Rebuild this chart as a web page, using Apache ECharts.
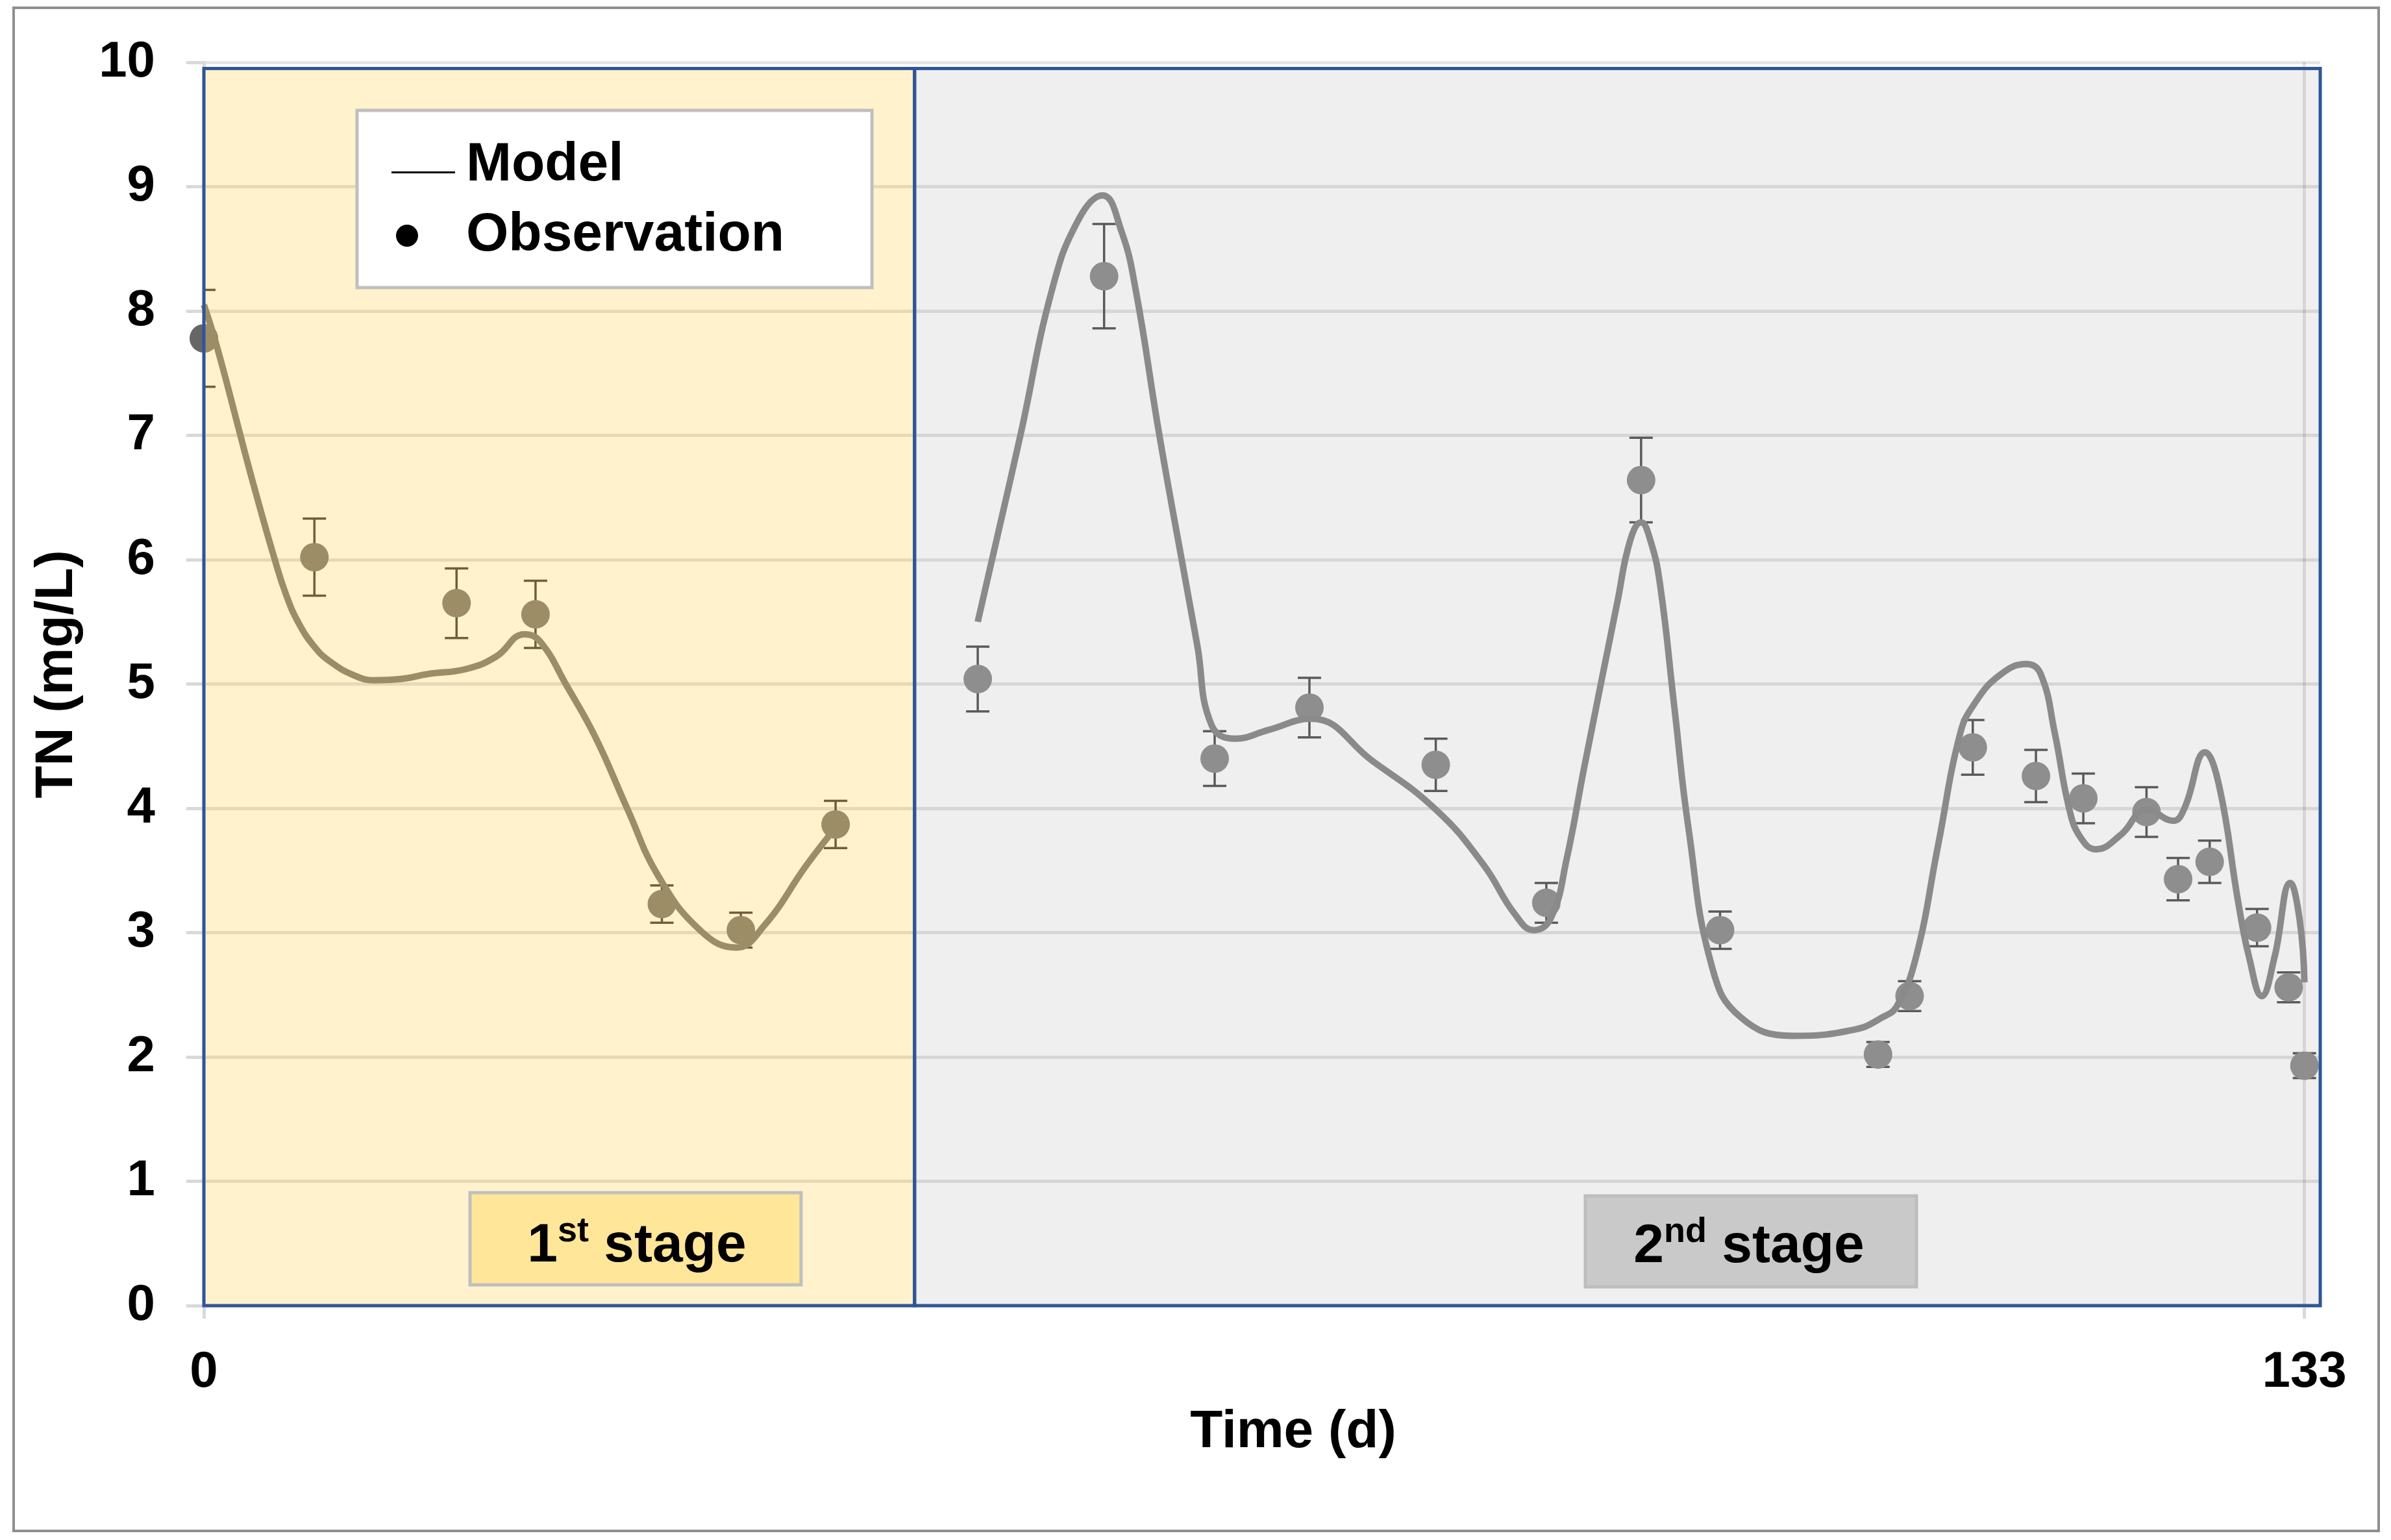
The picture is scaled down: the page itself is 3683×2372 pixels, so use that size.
<!DOCTYPE html>
<html>
<head>
<meta charset="utf-8">
<script src="https://cdn.jsdelivr.net/npm/echarts@6/dist/echarts.min.js"></script>
<style>
html,body{margin:0;padding:0;background:#fff;}
#chart{width:3683px;height:2372px;}
</style>
</head>
<body>
<div id="chart"></div>
<script>
// ---- Data ----
// Stage boundaries (days)
var stageBounds = [0, 45, 134];
var stageNames = ['1st stage', '2nd stage'];

// Observations, stage 1
var obs1Days = [0, 7, 16, 21, 29, 34, 40];
var obs1Vals = [7.78, 6.02, 5.65, 5.56, 3.23, 3.02, 3.87];
var obs1Err  = [0.39, 0.31, 0.28, 0.27, 0.15, 0.14, 0.19];

// Observations, stage 2
var obs2Days = [49, 57, 64, 70, 78, 85, 91, 96, 106, 108, 112, 116, 119, 123, 125, 127, 130, 132, 133];
var obs2Vals = [5.04, 8.28, 4.40, 4.81, 4.35, 3.24, 6.64, 3.02, 2.02, 2.49, 4.49, 4.26, 4.08, 3.97, 3.43, 3.57, 3.04, 2.56, 1.93];
var obs2Err  = [0.26, 0.42, 0.22, 0.24, 0.21, 0.16, 0.34, 0.15, 0.10, 0.12, 0.22, 0.21, 0.20, 0.20, 0.17, 0.17, 0.15, 0.12, 0.10];

// Model curve, stage 1
var model1Days = [0, 0.7, 1.6, 2.6, 3.5, 4.4, 5.2, 6, 7, 8, 9.5, 10.8, 12.5, 14.2, 16.6, 18.5, 20.3, 21.3, 23, 24.8, 26.8, 28.8, 31.5, 33.7, 35.5, 38.2, 40.1];
var model1Vals = [8.05, 7.77, 7.35, 6.86, 6.44, 6.04, 5.72, 5.49, 5.30, 5.18, 5.07, 5.03, 5.04, 5.08, 5.12, 5.22, 5.40, 5.34, 4.98, 4.57, 4.00, 3.45, 3.01, 2.88, 3.06, 3.55, 3.86];

// Model curve, stage 2
var model2Days = [49, 51.7, 53.7, 55.4, 56.9, 58.1, 59, 60.5, 62.2, 62.9, 63.8, 65.3, 67.4, 70.1, 74, 78, 81, 83, 84.2, 85.3, 86.3, 87.4, 89.5, 90.3, 91, 91.6, 92.2, 93.1, 94, 95.5, 97.3, 100.6, 104.5, 106.3, 107.2, 108.4, 109.8, 111.2, 112.1, 113.7, 115.4, 116.3, 117.2, 118.1, 118.8, 119.8, 121.4, 123, 124.7, 125.4, 126.7, 127.6, 128.8, 129.5, 130.3, 131.1, 132.1, 132.7, 133];
var model2Vals = [5.50, 7.00, 8.17, 8.74, 8.93, 8.64, 8.17, 7.00, 5.80, 5.31, 4.67, 4.56, 4.63, 4.72, 4.38, 3.99, 3.55, 3.15, 3.02, 3.12, 3.60, 4.33, 5.66, 6.15, 6.30, 6.15, 5.80, 4.82, 3.84, 2.72, 2.32, 2.17, 2.22, 2.32, 2.41, 2.80, 3.70, 4.60, 4.84, 5.07, 5.16, 5.08, 4.60, 4.00, 3.77, 3.67, 3.79, 3.99, 3.90, 4.00, 4.45, 4.18, 3.25, 2.80, 2.49, 2.80, 3.40, 3.10, 2.60];

// Axis ticks
var yTicks = {min: 0, max: 10, interval: 1};
var xTickValues = [0, 133];
var legendNames = ['Model', 'Observation'];

// ---- Styling ----
var FONT = '"Liberation Sans", Arial, sans-serif';
var tan = '#9C8D67';
var tanDark = '#6E5F3C';
var grey = '#8E8E8E';
var greyDark = '#5A5A5A';

function zip(a, b) { return a.map(function (v, i) { return [v, b[i]]; }); }
function zip3(a, b, c) { return a.map(function (v, i) { return [v, b[i], c[i]]; }); }

function errRenderer(fill, stroke) {
  return function (params, api) {
    var x = api.value(0), y = api.value(1), e = api.value(2);
    var hi = api.coord([x, y + e]);
    var lo = api.coord([x, y - e]);
    var c = api.coord([x, y]);
    var cap = 18;
    var ls = {stroke: stroke, lineWidth: 3.5};
    return {
      type: 'group',
      children: [
        {type: 'line', shape: {x1: hi[0], y1: hi[1], x2: lo[0], y2: lo[1]}, style: ls},
        {type: 'line', shape: {x1: hi[0] - cap, y1: hi[1], x2: hi[0] + cap, y2: hi[1]}, style: ls},
        {type: 'line', shape: {x1: lo[0] - cap, y1: lo[1], x2: lo[0] + cap, y2: lo[1]}, style: ls},
        {type: 'circle', shape: {cx: c[0], cy: c[1], r: 22}, style: {fill: fill}}
      ]
    };
  };
}

var chart = echarts.init(document.getElementById('chart'), null, {renderer: 'canvas'});

var lineIcon = 'path://M0,26L98,26L98,29L0,29Z M0,0L0.2,0L0.2,0.2L0,0.2Z M109.8,33.8L110,33.8L110,34L109.8,34Z';
var dotIcon = 'path://M7,17A17,17,0,1,0,41,17A17,17,0,1,0,7,17Z M0,0L0.2,0L0.2,0.2L0,0.2Z M109.8,33.8L110,33.8L110,34L109.8,34Z';

var option = {
  backgroundColor: '#fff',
  animation: false,
  grid: {left: 314, right: 109, top: 96, bottom: 361, containLabel: false},
  xAxis: {
    type: 'value', min: 0, max: stageBounds[2], z: 1,
    axisLine: {show: true, lineStyle: {color: '#D9D9D9', width: 5}},
    axisTick: {show: true, customValues: xTickValues, length: 20, lineStyle: {color: '#D9D9D9', width: 5}},
    axisLabel: {customValues: xTickValues, fontSize: 78, fontWeight: 'bold', color: '#000', fontFamily: FONT, margin: 64},
    splitLine: {show: true, lineStyle: {color: 'rgba(0,0,0,0.1)', width: 5}},
    name: 'Time (d)', nameLocation: 'middle', nameGap: 154,
    nameTextStyle: {fontSize: 82, fontWeight: 'bold', color: '#000', fontFamily: FONT, padding: [0, 0, 0, 96]}
  },
  yAxis: {
    type: 'value', min: yTicks.min, max: yTicks.max, interval: yTicks.interval, z: 1,
    axisLine: {show: true, lineStyle: {color: '#D9D9D9', width: 5}},
    axisTick: {show: true, length: 27, lineStyle: {color: '#D9D9D9', width: 5}},
    axisLabel: {fontSize: 78, fontWeight: 'bold', color: '#000', fontFamily: FONT, margin: 75},
    splitLine: {show: true, lineStyle: {color: 'rgba(0,0,0,0.1)', width: 5}},
    name: 'TN (mg/L)', nameLocation: 'middle', nameGap: 185,
    nameTextStyle: {fontSize: 82, fontWeight: 'bold', color: '#000', fontFamily: FONT, padding: [0, 0, 0, 30]}
  },
  legend: {
    orient: 'vertical', left: 550, top: 170, z: 20,
    selectedMode: false,
    backgroundColor: '#fff', borderColor: '#BFBFBF', borderWidth: 5,
    padding: [43, 135, 38, 53],
    itemWidth: 110, itemHeight: 34, itemGap: 24,
    textStyle: {fontSize: 84, fontWeight: 'bold', color: '#000', fontFamily: FONT, lineHeight: 84},
    data: [
      {name: legendNames[0], icon: lineIcon, itemStyle: {color: '#000', borderWidth: 0, borderColor: '#000'}},
      {name: legendNames[1], icon: dotIcon, itemStyle: {color: '#000', borderWidth: 0, borderColor: '#000'}}
    ]
  },
  series: [
    {
      name: 'bg', type: 'line', data: [], clip: false, silent: true,
      markArea: {
        silent: true, z: 0,
        data: [
          [{xAxis: stageBounds[0], yAxis: 9.95, itemStyle: {color: '#FFF2CC'}}, {xAxis: stageBounds[1], yAxis: 0}],
          [{xAxis: stageBounds[1], yAxis: 9.95, itemStyle: {color: '#EFEFEF'}}, {xAxis: stageBounds[2], yAxis: 0}]
        ]
      }
    },
    {
      name: 'frame', type: 'line', data: [], clip: false, silent: true,
      markArea: {
        silent: true, z: 8,
        itemStyle: {color: 'rgba(0,0,0,0)', borderColor: '#2F5597', borderWidth: 5},
        data: [
          [{xAxis: stageBounds[0], yAxis: 9.95}, {xAxis: stageBounds[1], yAxis: 0}],
          [{xAxis: stageBounds[1], yAxis: 9.95}, {xAxis: stageBounds[2], yAxis: 0}]
        ]
      }
    },
    {
      name: 'obs0', type: 'scatter', z: 2, clip: false, silent: true,
      symbolSize: 44, itemStyle: {color: '#404040'},
      data: [[obs1Days[0], obs1Vals[0]]]
    },
    {
      name: legendNames[1], type: 'custom', z: 3, clip: true,
      itemStyle: {color: '#000'},
      renderItem: errRenderer(tan, tanDark),
      data: zip3(obs1Days, obs1Vals, obs1Err)
    },
    {
      name: legendNames[1], type: 'custom', z: 3, clip: false,
      itemStyle: {color: '#000'},
      renderItem: errRenderer(grey, greyDark),
      data: zip3(obs2Days, obs2Vals, obs2Err)
    },
    {
      name: legendNames[0], type: 'line', z: 4, smooth: 0.45, showSymbol: false, symbol: 'none', clip: false,
      lineStyle: {color: tan, width: 10}, itemStyle: {color: '#000'},
      data: zip(model1Days, model1Vals)
    },
    {
      name: legendNames[0], type: 'line', z: 4, smooth: 0.45, showSymbol: false, symbol: 'none', clip: false,
      lineStyle: {color: '#8A8A8A', width: 10}, itemStyle: {color: '#000'},
      data: zip(model2Days, model2Vals)
    }
  ],
  graphic: [
    {type: 'rect', z: 0, silent: true, shape: {x: 21, y: 12, width: 3643, height: 2346},
     style: {fill: 'none', stroke: '#8F8F8F', lineWidth: 4}},
    {type: 'rect', z: 10, silent: true, shape: {x: 724, y: 1837, width: 510, height: 142},
     style: {fill: '#FFE699', stroke: '#BFBFBF', lineWidth: 5}},
    {type: 'text', z: 11, silent: true, x: 981, y: 1920,
     style: {text: '{m|1}{s|st}{m| stage}', textAlign: 'center', textVerticalAlign: 'middle',
       rich: {
         m: {fontSize: 84, fontWeight: 'bold', fontFamily: FONT, fill: '#000', lineHeight: 100},
         s: {fontSize: 54, fontWeight: 'bold', fontFamily: FONT, fill: '#000', lineHeight: 60, verticalAlign: 'top'}
       }}},
    {type: 'rect', z: 10, silent: true, shape: {x: 2442, y: 1842, width: 510, height: 140},
     style: {fill: '#C9C9C9', stroke: '#BDBDBD', lineWidth: 5}},
    {type: 'text', z: 11, silent: true, x: 2694, y: 1921,
     style: {text: '{m|2}{s|nd}{m| stage}', textAlign: 'center', textVerticalAlign: 'middle',
       rich: {
         m: {fontSize: 84, fontWeight: 'bold', fontFamily: FONT, fill: '#000', lineHeight: 100},
         s: {fontSize: 54, fontWeight: 'bold', fontFamily: FONT, fill: '#000', lineHeight: 60, verticalAlign: 'top'}
       }}}
  ]
};
chart.setOption(option);
</script>
</body>
</html>
